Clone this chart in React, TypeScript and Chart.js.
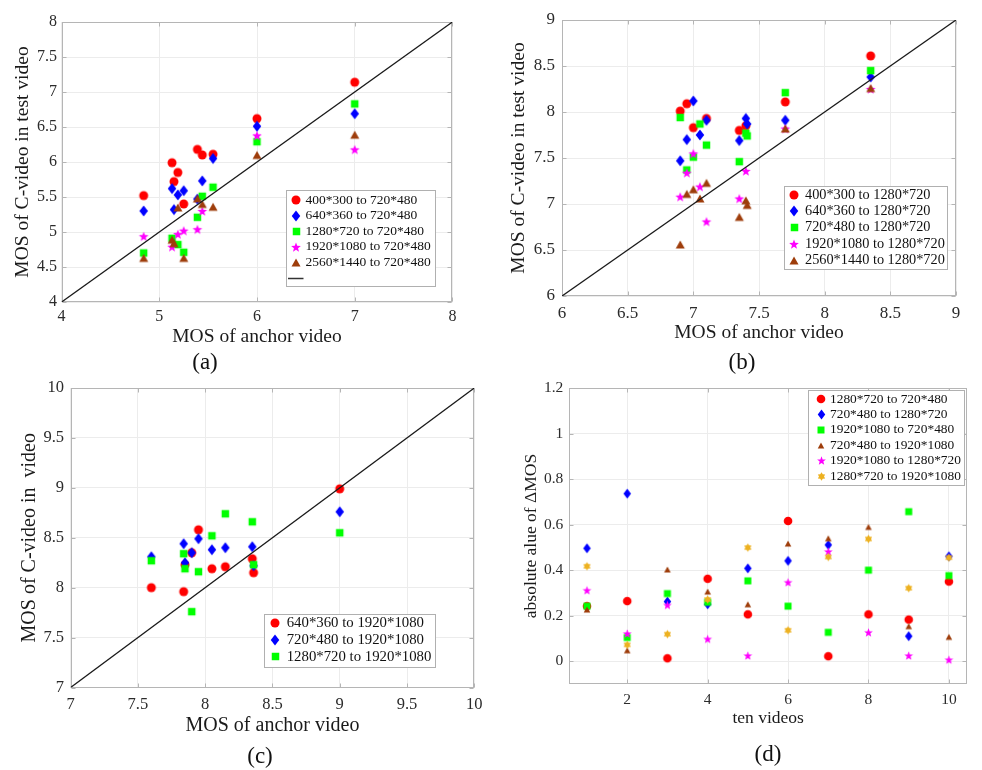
import React, { useEffect, useRef } from 'react';
import { Chart, registerables } from 'chart.js';

Chart.register(...registerables);

const SERIF = '"Liberation Serif", "Times New Roman", Times, serif';

// ===== (a) =====
const anchorA = [4.84, 5.13, 5.15, 5.19, 5.25, 5.39, 5.44, 5.55, 6.0, 7.0];
const a400x300 = [5.52, 5.99, 5.72, 5.85, 5.4, 6.18, 6.1, 6.11, 6.62, 7.14];
const a640x360 = [5.3, 5.62, 5.32, 5.53, 5.59, 5.47, 5.73, 6.05, 6.51, 6.69];
const a1280x720 = [4.7, 4.91, null, 4.82, 4.71, 5.21, 5.51, 5.64, 6.29, 6.83];
const a1920x1080 = [4.94, 4.79, null, 4.97, 5.02, 5.04, 5.3, null, 6.38, 6.18];
const a2560x1440 = [4.63, 4.89, 4.84, 5.35, 4.63, 5.48, 5.4, 5.36, 6.1, 6.39];
const legendA = ['400*300 to 720*480', '640*360 to 720*480', '1280*720 to 720*480', '1920*1080 to 720*480', '2560*1440 to 720*480'];
const xTicksA = [4, 5, 6, 7, 8];
const yTicksA = [4, 4.5, 5, 5.5, 6, 6.5, 7, 7.5, 8];

// ===== (b) =====
const anchorB = [6.9, 6.95, 7.0, 7.05, 7.1, 7.35, 7.4, 7.41, 7.7, 8.35];
const b400x300 = [8.01, 8.09, 7.83, null, 7.93, 7.8, 7.85, null, 8.11, 8.61];
const b640x360 = [7.47, 7.7, 8.12, 7.75, 7.91, 7.69, 7.93, 7.87, 7.91, 8.38];
const b720x480 = [7.94, 7.37, 7.51, 7.87, 7.64, 7.46, 7.77, 7.74, 8.21, 8.45];
const b1920x1080 = [7.08, 7.34, 7.55, 7.19, 6.81, 7.06, 7.36, null, 7.82, 8.25];
const b2560x1440 = [6.56, 7.11, 7.16, 7.06, 7.23, 6.86, 7.04, 6.99, 7.82, 8.26];
const legendB = ['400*300 to 1280*720', '640*360 to 1280*720', '720*480 to 1280*720', '1920*1080 to 1280*720', '2560*1440 to 1280*720'];
const xTicksB = [6, 6.5, 7, 7.5, 8, 8.5, 9];
const yTicksB = [6, 6.5, 7, 7.5, 8, 8.5, 9];

// ===== (c) =====
const anchorC = [7.6, 7.84, 7.85, 7.9, 7.95, 8.05, 8.15, 8.35, 8.36, 9.0];
const c640x360 = [8.0, 7.96, 8.23, 8.35, 8.58, 8.19, 8.21, 8.29, 8.15, 8.99];
const c720x480 = [8.31, 8.44, 8.25, 8.35, 8.49, 8.38, 8.4, 8.41, 8.22, 8.76];
const c1280x720 = [8.27, 8.34, 8.19, 7.76, 8.16, 8.52, 8.74, 8.66, 8.23, 8.55];
const legendC = ['640*360 to 1920*1080', '720*480 to 1920*1080', '1280*720 to 1920*1080'];
const xTicksC = [7, 7.5, 8, 8.5, 9, 9.5, 10];
const yTicksC = [7, 7.5, 8, 8.5, 9, 9.5, 10];

// ===== (d) =====
const videos = [1, 2, 3, 4, 5, 6, 7, 8, 9, 10];
const d1280to720 = [0.242, 0.264, 0.013, 0.362, 0.206, 0.616, 0.022, 0.206, 0.183, 0.35];
const d720to1280 = [0.496, 0.736, 0.262, 0.25, 0.408, 0.441, 0.511, null, 0.11, 0.461];
const d1920to720 = [0.242, 0.104, 0.297, 0.259, 0.353, 0.242, 0.127, 0.4, 0.657, 0.376];
const d720to1920 = [0.227, 0.048, 0.403, 0.306, 0.25, 0.517, 0.54, 0.59, 0.154, 0.107];
const d1920to1280 = [0.312, 0.122, 0.247, 0.098, 0.025, 0.347, 0.482, 0.127, 0.025, 0.007];
const d1280to1920 = [0.417, 0.072, 0.119, 0.271, 0.499, 0.136, 0.458, 0.537, 0.321, 0.455];
const legendD = ['1280*720 to 720*480', '720*480 to 1280*720', '1920*1080 to 720*480', '720*480 to 1920*1080', '1920*1080 to 1280*720', '1280*720 to 1920*1080'];
const xTicksD = [2, 4, 6, 8, 10];
const yTicksD = [0, 0.2, 0.4, 0.6, 0.8, 1, 1.2];

// ===== marker styles =====
type MSpec = { kind: string; color: string; w: number; h: number };
const RED: MSpec = { kind: 'circle', color: '#ff0000', w: 9, h: 9 };
const BLUE: MSpec = { kind: 'diamond', color: '#0000ff', w: 8.5, h: 11 };
const GREEN: MSpec = { kind: 'square', color: '#00ff00', w: 7.5, h: 7.5 };
const MAG: MSpec = { kind: 'star5', color: '#ff00ff', w: 9, h: 9 };
const BROWN: MSpec = { kind: 'triangle', color: '#9e3d0b', w: 9, h: 8 };
const RED_D: MSpec = { kind: 'circle', color: '#ff0000', w: 8.6, h: 8.6 };
const BLUE_D: MSpec = { kind: 'diamond', color: '#0000ff', w: 7.5, h: 10 };
const GREEN_D: MSpec = { kind: 'square', color: '#00ff00', w: 7, h: 7 };
const BROWN_D: MSpec = { kind: 'triangle', color: '#9e3d0b', w: 6.5, h: 5.8 };
const MAG_D: MSpec = { kind: 'star5', color: '#ff00ff', w: 8, h: 8 };
const ORANGE_D: MSpec = { kind: 'hexagram', color: '#edb120', w: 8, h: 8 };

function makeMarker(m: MSpec): HTMLCanvasElement {
  const cw = Math.ceil(m.w) + 3;
  const ch = Math.ceil(m.h) + 3;
  const c = document.createElement('canvas');
  c.width = cw;
  c.height = ch;
  const g = c.getContext('2d') as CanvasRenderingContext2D;
  const cx = cw / 2;
  const cy = ch / 2;
  const w = m.w;
  const h = m.h;
  g.fillStyle = m.color;
  g.beginPath();
  if (m.kind === 'circle') {
    g.arc(cx, cy, w / 2, 0, Math.PI * 2);
  } else if (m.kind === 'square') {
    g.rect(cx - w / 2, cy - h / 2, w, h);
  } else if (m.kind === 'diamond') {
    g.moveTo(cx, cy - h / 2);
    g.lineTo(cx + w / 2, cy);
    g.lineTo(cx, cy + h / 2);
    g.lineTo(cx - w / 2, cy);
  } else if (m.kind === 'triangle') {
    g.moveTo(cx, cy - h / 2);
    g.lineTo(cx + w / 2, cy + h / 2);
    g.lineTo(cx - w / 2, cy + h / 2);
  } else {
    const n = m.kind === 'star5' ? 5 : 6;
    const R = w / 2 + (n === 5 ? 0.6 : 0.2);
    const r = n === 5 ? R * 0.42 : R * 0.6;
    const oy = n === 5 ? R * 0.1 : 0;
    for (let k = 0; k < 2 * n; k++) {
      const ang = -Math.PI / 2 + (k * Math.PI) / n;
      const rad = k % 2 === 0 ? R : r;
      const px = cx + rad * Math.cos(ang);
      const py = cy + oy + rad * Math.sin(ang);
      if (k === 0) g.moveTo(px, py);
      else g.lineTo(px, py);
    }
  }
  g.closePath();
  g.fill();
  return c;
}

type Series = { label: string; y: (number | null)[]; marker: MSpec };
type Panel = {
  left: number; top: number; w: number; h: number;
  pad: { top: number; right: number }; yW: number; xH: number;
  xRange: number[]; yRange: number[]; xTicks: number[]; yTicks: number[];
  tickSize: number; xTickPad: number; yTickPad: number;
  xTitle: string; yTitle: string; titleSize: number; xTitlePad: number; yTitlePad: number;
  x: number[]; series: Series[]; diag: number[] | null; diagInLegend: boolean;
  legend: { x: number; y: number; w: number; h: number; first: number; rowH: number; mx: number; tx: number; size: number };
  caption: { text: string; x: number; dy: number };
};

const PANELS: Panel[] = [
  {
    left: 0, top: 0, w: 491, h: 385,
    pad: { top: 22, right: 38.6 }, yW: 61.6, xH: 83,
    xRange: [4, 8], yRange: [4, 8], xTicks: xTicksA, yTicks: yTicksA,
    tickSize: 16, xTickPad: 5, yTickPad: 4.5,
    xTitle: 'MOS of anchor video', yTitle: 'MOS of C-video in test video', titleSize: 19.5, xTitlePad: 36.3, yTitlePad: 11.3,
    x: anchorA,
    series: [
      { label: legendA[0], y: a400x300, marker: RED },
      { label: legendA[1], y: a640x360, marker: BLUE },
      { label: legendA[2], y: a1280x720, marker: GREEN },
      { label: legendA[3], y: a1920x1080, marker: MAG },
      { label: legendA[4], y: a2560x1440, marker: BROWN },
    ],
    diag: [4, 8], diagInLegend: true,
    legend: { x: 286, y: 190, w: 149, h: 96, first: 200, rowH: 15.6, mx: 296, tx: 305.5, size: 13.5 },
    caption: { text: '(a)', x: 205, dy: 61 },
  },
  {
    left: 491, top: 0, w: 491, h: 385,
    pad: { top: 20, right: 26 }, yW: 71, xH: 89,
    xRange: [6, 9], yRange: [6, 9], xTicks: xTicksB, yTicks: yTicksB,
    tickSize: 17, xTickPad: 7, yTickPad: 7,
    xTitle: 'MOS of anchor video', yTitle: 'MOS of C-video in test video', titleSize: 19.5, xTitlePad: 40.3, yTitlePad: 16.3,
    x: anchorB,
    series: [
      { label: legendB[0], y: b400x300, marker: RED },
      { label: legendB[1], y: b640x360, marker: BLUE },
      { label: legendB[2], y: b720x480, marker: GREEN },
      { label: legendB[3], y: b1920x1080, marker: MAG },
      { label: legendB[4], y: b2560x1440, marker: BROWN },
    ],
    diag: [6, 9], diagInLegend: false,
    legend: { x: 293, y: 186, w: 163, h: 83, first: 195, rowH: 16.3, mx: 303, tx: 314, size: 14.3 },
    caption: { text: '(b)', x: 251, dy: 67 },
  },
  {
    left: 0, top: 365, w: 491, h: 405,
    pad: { top: 23, right: 16.7 }, yW: 70.6, xH: 82.5,
    xRange: [7, 10], yRange: [7, 10], xTicks: xTicksC, yTicks: yTicksC,
    tickSize: 16.5, xTickPad: 7, yTickPad: 6.5,
    xTitle: 'MOS of anchor video', yTitle: 'MOS of C-video in  video', titleSize: 20, xTitlePad: 32.3, yTitlePad: 17.3,
    x: anchorC,
    series: [
      { label: legendC[0], y: c640x360, marker: RED },
      { label: legendC[1], y: c720x480, marker: BLUE },
      { label: legendC[2], y: c1280x720, marker: GREEN },
    ],
    diag: [7, 10], diagInLegend: false,
    legend: { x: 264, y: 249, w: 171, h: 53, first: 258.3, rowH: 16.7, mx: 275, tx: 286.7, size: 14.8 },
    caption: { text: '(c)', x: 260, dy: 69 },
  },
  {
    left: 491, top: 365, w: 491, h: 405,
    pad: { top: 23, right: 15 }, yW: 78.3, xH: 86,
    xRange: [0.56, 10.45], yRange: [-0.1, 1.2], xTicks: xTicksD, yTicks: yTicksD,
    tickSize: 15.5, xTickPad: 7, yTickPad: 6,
    xTitle: 'ten videos', yTitle: 'absolute alue of \u0394MOS', titleSize: 17.5, xTitlePad: 41.5, yTitlePad: 30.2,
    x: videos,
    series: [
      { label: legendD[0], y: d1280to720, marker: RED_D },
      { label: legendD[1], y: d720to1280, marker: BLUE_D },
      { label: legendD[2], y: d1920to720, marker: GREEN_D },
      { label: legendD[3], y: d720to1920, marker: BROWN_D },
      { label: legendD[4], y: d1920to1280, marker: MAG_D },
      { label: legendD[5], y: d1280to1920, marker: ORANGE_D },
    ],
    diag: null, diagInLegend: false,
    legend: { x: 317, y: 25, w: 156, h: 95, first: 34, rowH: 15.4, mx: 330, tx: 339, size: 13.4 },
    caption: { text: '(d)', x: 277, dy: 71 },
  },
];

const GRID = '#ececec';
const FRAME = '#b5b5b5';
const TICK_COLOR = '#2b2b2b';
const TITLE_COLOR = '#1a1a1a';

function buildChart(canvas: HTMLCanvasElement, p: Panel): Chart {
  const markers = p.series.map((s) => makeMarker(s.marker));
  const n = p.series.length;
  const datasets: any[] = p.series.map((s, i) => ({
    label: s.label,
    data: p.x
      .map((xv, k) => ({ x: xv, y: s.y[k] }))
      .filter((d) => d.y !== null && d.y !== undefined),
    pointStyle: markers[i],
    pointRadius: 5,
    pointHoverRadius: 5,
    backgroundColor: s.marker.color,
    borderColor: s.marker.color,
    order: n - i + 1,
  }));
  if (p.diag) {
    datasets.push({
      label: '',
      data: [
        { x: p.diag[0], y: p.diag[0] },
        { x: p.diag[1], y: p.diag[1] },
      ],
      showLine: true,
      pointRadius: 0,
      borderColor: '#1a1a1a',
      borderWidth: 1.3,
      order: 0,
    });
  }

  const framePlugin = {
    id: 'frame',
    beforeDatasetsDraw(chart: any) {
      const { ctx, chartArea: a, scales } = chart;
      ctx.save();
      ctx.strokeStyle = FRAME;
      ctx.lineWidth = 1;
      const L = Math.round(a.left) + 0.5;
      const T = Math.round(a.top) + 0.5;
      const R = Math.round(a.right) - 0.5;
      const B = Math.round(a.bottom) - 0.5;
      ctx.strokeRect(L, T, R - L, B - T);
      const tl = 4;
      ctx.beginPath();
      scales.x.ticks.forEach((t: any) => {
        const px = Math.round(scales.x.getPixelForValue(t.value)) + 0.5;
        ctx.moveTo(px, B);
        ctx.lineTo(px, B - tl);
        ctx.moveTo(px, T);
        ctx.lineTo(px, T + tl);
      });
      scales.y.ticks.forEach((t: any) => {
        const py = Math.round(scales.y.getPixelForValue(t.value)) + 0.5;
        ctx.moveTo(L, py);
        ctx.lineTo(L + tl, py);
        ctx.moveTo(R, py);
        ctx.lineTo(R - tl, py);
      });
      ctx.stroke();
      ctx.restore();
    },
  };

  const legendPlugin = {
    id: 'boxLegend',
    afterDraw(chart: any) {
      const ctx = chart.ctx as CanvasRenderingContext2D;
      const L = p.legend;
      ctx.save();
      ctx.fillStyle = '#ffffff';
      ctx.fillRect(L.x, L.y, L.w, L.h);
      ctx.strokeStyle = '#b0b0b0';
      ctx.lineWidth = 1;
      ctx.strokeRect(Math.round(L.x) + 0.5, Math.round(L.y) + 0.5, Math.round(L.w), Math.round(L.h));
      ctx.font = `${L.size}px ${SERIF}`;
      ctx.textBaseline = 'middle';
      ctx.textAlign = 'left';
      ctx.fillStyle = '#111111';
      p.series.forEach((s, i) => {
        const cy = L.first + i * L.rowH;
        const m = markers[i];
        ctx.drawImage(m, Math.round(L.mx - m.width / 2), Math.round(cy - m.height / 2));
        ctx.fillText(s.label, L.tx, cy);
      });
      if (p.diag && p.diagInLegend) {
        const cy = Math.round(L.first + n * L.rowH) + 0.5;
        ctx.strokeStyle = '#333333';
        ctx.lineWidth = 1.5;
        ctx.beginPath();
        ctx.moveTo(L.mx - 8, cy);
        ctx.lineTo(L.mx + 7.5, cy);
        ctx.stroke();
      }
      ctx.restore();
    },
  };

  const captionPlugin = {
    id: 'caption',
    afterDraw(chart: any) {
      const ctx = chart.ctx as CanvasRenderingContext2D;
      ctx.save();
      ctx.font = `23px ${SERIF}`;
      ctx.fillStyle = '#111111';
      ctx.textAlign = 'center';
      ctx.textBaseline = 'middle';
      ctx.fillText(p.caption.text, p.caption.x, chart.chartArea.bottom + p.caption.dy);
      ctx.restore();
    },
  };

  const tickFont = { family: SERIF, size: p.tickSize };
  const titleFont = { family: SERIF, size: p.titleSize };

  return new Chart(canvas, {
    type: 'scatter',
    data: { datasets },
    plugins: [framePlugin, legendPlugin, captionPlugin],
    options: {
      responsive: false,
      animation: false,
      devicePixelRatio: 1,
      events: [],
      layout: { padding: { top: p.pad.top, right: p.pad.right, left: 0, bottom: 0 } },
      plugins: { legend: { display: false }, tooltip: { enabled: false } },
      scales: {
        x: {
          type: 'linear',
          min: p.xRange[0],
          max: p.xRange[1],
          afterBuildTicks: (s: any) => {
            s.ticks = p.xTicks.map((v) => ({ value: v }));
          },
          afterFit: (s: any) => {
            s.height = p.xH;
          },
          ticks: {
            font: tickFont,
            color: TICK_COLOR,
            padding: p.xTickPad,
            autoSkip: false,
            maxRotation: 0,
            callback: (v: any) => String(v),
          },
          grid: { color: GRID, drawTicks: false, lineWidth: 1 },
          border: { display: false },
          title: {
            display: true,
            text: p.xTitle,
            font: titleFont,
            color: TITLE_COLOR,
            padding: { top: 0, bottom: p.xTitlePad },
          },
        },
        y: {
          type: 'linear',
          min: p.yRange[0],
          max: p.yRange[1],
          afterBuildTicks: (s: any) => {
            s.ticks = p.yTicks.map((v) => ({ value: v }));
          },
          afterFit: (s: any) => {
            s.width = p.yW;
          },
          ticks: {
            font: tickFont,
            color: TICK_COLOR,
            padding: p.yTickPad,
            autoSkip: false,
            callback: (v: any) => String(v),
          },
          grid: { color: GRID, drawTicks: false, lineWidth: 1 },
          border: { display: false },
          title: {
            display: true,
            text: p.yTitle,
            font: titleFont,
            color: TITLE_COLOR,
            padding: { top: p.yTitlePad, bottom: 0 },
          },
        },
      },
    } as any,
  });
}

export default function App() {
  const refs = useRef<(HTMLCanvasElement | null)[]>([]);
  useEffect(() => {
    const charts = PANELS.map((p, i) => buildChart(refs.current[i] as HTMLCanvasElement, p));
    return () => charts.forEach((c) => c.destroy());
  }, []);
  return (
    <div style={{ position: 'absolute', left: 0, top: 0, width: 982, height: 770, background: '#ffffff', overflow: 'hidden' }}>
      {PANELS.map((p, i) => (
        <canvas
          key={i}
          ref={(el) => {
            refs.current[i] = el;
          }}
          width={p.w}
          height={p.h}
          style={{ position: 'absolute', left: p.left, top: p.top, width: p.w, height: p.h }}
        />
      ))}
    </div>
  );
}
